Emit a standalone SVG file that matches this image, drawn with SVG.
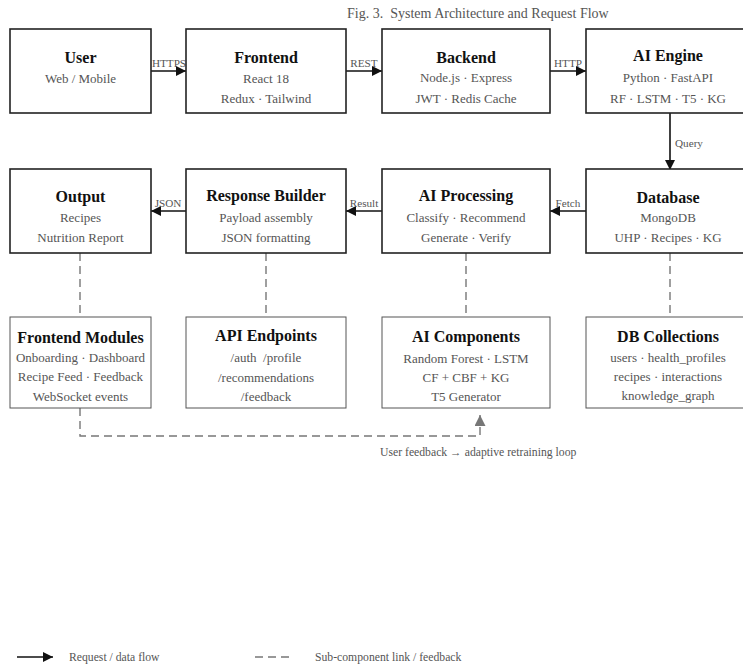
<svg xmlns="http://www.w3.org/2000/svg" width="743" height="665" viewBox="0 0 743 665">
<style>
text{font-family:"Liberation Serif","Times New Roman",serif}
.box{fill:#fff;stroke:#222;stroke-width:1.6}
.sub{fill:#fff;stroke:#555;stroke-width:1}
.t{font-size:16px;font-weight:bold;fill:#111;text-anchor:middle}
.s{font-size:13px;fill:#555;text-anchor:middle}
.el{font-size:11.2px;fill:#555;text-anchor:middle}
.flow{stroke:#111;stroke-width:1.6;fill:none;marker-end:url(#ah)}
.dash{stroke:#777;stroke-width:1.4;fill:none;stroke-dasharray:8,5}
.cap{font-size:14px;fill:#555}
.leg{font-size:11.7px;fill:#555}
</style>
<defs>
<marker id="ah" viewBox="0 0 10 10" refX="10" refY="5" markerWidth="11" markerHeight="10" markerUnits="userSpaceOnUse" orient="auto"><path d="M0,0L10,5L0,10z" fill="#111"/></marker>
<marker id="ahg" viewBox="0 0 10 10" refX="10" refY="5" markerWidth="11" markerHeight="11" markerUnits="userSpaceOnUse" orient="auto"><path d="M0,0L10,5L0,10z" fill="#777"/></marker>
</defs>
<rect width="743" height="665" fill="#fff"/>
<text class="cap" x="347" y="18">Fig. 3.&#160; System Architecture and Request Flow</text>

<g id="connectors">
<line class="flow" x1="151" y1="71" x2="186" y2="71"/>
<line class="flow" x1="346" y1="71" x2="382" y2="71"/>
<line class="flow" x1="550" y1="71" x2="586" y2="71"/>
<line class="flow" x1="670" y1="113" x2="670" y2="170"/>
<line class="flow" x1="586" y1="211" x2="550" y2="211"/>
<line class="flow" x1="382" y1="211" x2="346" y2="211"/>
<line class="flow" x1="186" y1="211" x2="151" y2="211"/>
<text class="el" x="169" y="67">HTTPS</text>
<text class="el" x="364" y="67">REST</text>
<text class="el" x="568" y="67">HTTP</text>
<text class="el" x="675" y="147" style="text-anchor:start">Query</text>
<text class="el" x="568" y="207">Fetch</text>
<text class="el" x="364" y="207">Result</text>
<text class="el" x="168" y="207">JSON</text>
<line class="dash" x1="80" y1="253" x2="80" y2="317"/>
<line class="dash" x1="266" y1="253" x2="266" y2="317"/>
<line class="dash" x1="466" y1="253" x2="466" y2="317"/>
<line class="dash" x1="670" y1="253" x2="670" y2="317"/>
<path class="dash" d="M80,408V436H480V415" marker-end="url(#ahg)"/>
<text class="leg" x="380" y="456">User feedback → adaptive retraining loop</text>
</g>

<g id="user"><rect class="box" x="10" y="29" width="141" height="84"/><text class="t" x="80.5" y="63">User</text><text class="s" x="80.5" y="83">Web / Mobile</text></g>
<g id="frontend"><rect class="box" x="186" y="29" width="160" height="84"/><text class="t" x="266" y="63">Frontend</text><text class="s" x="266" y="83">React 18</text><text class="s" x="266" y="103">Redux · Tailwind</text></g>
<g id="backend"><rect class="box" x="382" y="29" width="168" height="84"/><text class="t" x="466" y="63">Backend</text><text class="s" x="466" y="82">Node.js · Express</text><text class="s" x="466" y="103">JWT · Redis Cache</text></g>
<g id="ai-engine"><rect class="box" x="586" y="29" width="164" height="84"/><text class="t" x="668" y="61">AI Engine</text><text class="s" x="668" y="82">Python · FastAPI</text><text class="s" x="668" y="103">RF · LSTM · T5 · KG</text></g>

<g id="output"><rect class="box" x="10" y="169" width="141" height="84"/><text class="t" x="80.5" y="202">Output</text><text class="s" x="80.5" y="222">Recipes</text><text class="s" x="80.5" y="242">Nutrition Report</text></g>
<g id="response-builder"><rect class="box" x="186" y="169" width="160" height="84"/><text class="t" x="266" y="201">Response Builder</text><text class="s" x="266" y="222">Payload assembly</text><text class="s" x="266" y="242">JSON formatting</text></g>
<g id="ai-processing"><rect class="box" x="382" y="169" width="168" height="84"/><text class="t" x="466" y="201">AI Processing</text><text class="s" x="466" y="222">Classify · Recommend</text><text class="s" x="466" y="242">Generate · Verify</text></g>
<g id="database"><rect class="box" x="586" y="169" width="164" height="84"/><text class="t" x="668" y="203">Database</text><text class="s" x="668" y="222">MongoDB</text><text class="s" x="668" y="242">UHP · Recipes · KG</text></g>

<g id="frontend-modules"><rect class="sub" x="10" y="317" width="141" height="91"/><text class="t" x="80.5" y="343">Frontend Modules</text><text class="s" x="80.5" y="362">Onboarding · Dashboard</text><text class="s" x="80.5" y="381">Recipe Feed · Feedback</text><text class="s" x="80.5" y="401">WebSocket events</text></g>
<g id="api-endpoints"><rect class="sub" x="186" y="317" width="160" height="91"/><text class="t" x="266" y="341">API Endpoints</text><text class="s" x="266" y="362">/auth&#160; /profile</text><text class="s" x="266" y="382">/recommendations</text><text class="s" x="266" y="401">/feedback</text></g>
<g id="ai-components"><rect class="sub" x="382" y="317" width="168" height="91"/><text class="t" x="466" y="342">AI Components</text><text class="s" x="466" y="363">Random Forest · LSTM</text><text class="s" x="466" y="382">CF + CBF + KG</text><text class="s" x="466" y="401">T5 Generator</text></g>
<g id="db-collections"><rect class="sub" x="586" y="317" width="164" height="91"/><text class="t" x="668" y="342">DB Collections</text><text class="s" x="668" y="362">users · health_profiles</text><text class="s" x="668" y="381">recipes · interactions</text><text class="s" x="668" y="400">knowledge_graph</text></g>

<g id="legend">
<line class="flow" x1="17" y1="657" x2="53" y2="657"/>
<text class="leg" x="69" y="661">Request / data flow</text>
<line class="dash" x1="255" y1="657" x2="292" y2="657"/>
<text class="leg" x="315" y="661">Sub-component link / feedback</text>
</g>
</svg>
